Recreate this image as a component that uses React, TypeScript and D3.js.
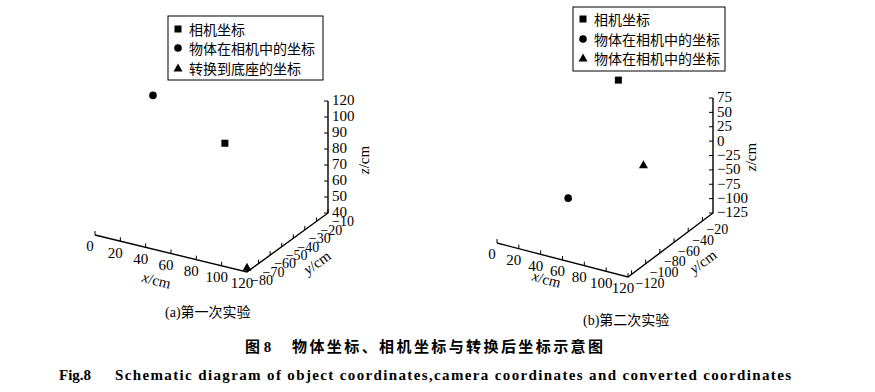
import React from "react";
import * as d3 from "d3";

// ---------- data ----------
const legendA = ["相机坐标", "物体在相机中的坐标", "转换到底座的坐标"];
const legendB = ["相机坐标", "物体在相机中的坐标", "物体在相机中的坐标"];
const markerKinds = ["square", "circle", "triangle"];

// panel (a) points [x, y, z]
const cameraA = [66, -40, 89];
const objectA = [27.5, -60, 122];
const convertedA = [120, -80, 43];
// panel (b) points
const cameraB = [69, -60, 132];
const objectB = [36, -80, -71];
const convertedB = [79, -40, -29];

const xTicksA = [0, 20, 40, 60, 80, 100, 120];
const yTicksA = [-80, -70, -60, -50, -40, -30, -20, -10];
const zTicksA = [40, 50, 60, 70, 80, 90, 100, 110];
const zTickLabelsA = ["40", "50", "60", "70", "80", "90", "100", "120"];

const xTicksB = [0, 20, 40, 60, 80, 100, 120];
const yTicksB = [-120, -100, -80, -60, -40, -20];
const zTicksB = [-125, -100, -75, -50, -25, 0, 25, 50, 75];
const zTickLabelsB = zTicksB.map((d) => (d < 0 ? "\u2212" + Math.abs(d) : String(d)));

const fmtNeg = (d: number) => (d < 0 ? "\u2212" + Math.abs(d) : String(d));

const SERIF = "'Liberation Serif', 'Times New Roman', serif";
const CJK = "'Liberation Serif', 'Noto Sans CJK SC', serif";

type Cfg = {
  origin: [number, number];
  xEnd: [number, number];
  yEnd: [number, number];
  zTopY: number;
  xDom: [number, number];
  yDom: [number, number];
  zDom: [number, number];
};

function makeProj(c: Cfg) {
  const fx = d3.scaleLinear().domain(c.xDom).range([0, 1]);
  const fy = d3.scaleLinear().domain(c.yDom).range([0, 1]);
  const fz = d3.scaleLinear().domain(c.zDom).range([0, 1]);
  const ex = [c.xEnd[0] - c.origin[0], c.xEnd[1] - c.origin[1]];
  const ey = [c.yEnd[0] - c.xEnd[0], c.yEnd[1] - c.xEnd[1]];
  const ez = [0, c.zTopY - c.yEnd[1]];
  return (x: number, y: number, z: number): [number, number] => {
    const a = fx(x), b = fy(y), g = fz(z);
    return [
      c.origin[0] + a * ex[0] + b * ey[0] + g * ez[0],
      c.origin[1] + a * ex[1] + b * ey[1] + g * ez[1],
    ];
  };
}

function Marker({ kind, x, y }: { kind: string; x: number; y: number }) {
  if (kind === "square") return <rect x={x - 3.5} y={y - 3.5} width={7} height={7} fill="#000" />;
  if (kind === "circle") return <circle cx={x} cy={y} r={3.8} fill="#000" />;
  return <path d={`M${x},${y - 4.5}L${x + 4.5},${y + 3.5}L${x - 4.5},${y + 3.5}Z`} fill="#000" />;
}

function Panel(props: {
  cfg: Cfg;
  xTicks: number[];
  yTicks: number[];
  zTicks: number[];
  zLabels: string[];
  points: number[][];
  xLab: [number, number];
  yLab: [number, number];
  zLab: [number, number];
}) {
  const { cfg, xTicks, yTicks, zTicks, zLabels, points } = props;
  const P = makeProj(cfg);
  const x0 = cfg.xDom[0], x1 = cfg.xDom[1];
  const y0 = cfg.yDom[0], y1 = cfg.yDom[1];
  const z0 = cfg.zDom[0], z1 = cfg.zDom[1];
  const line = d3.line();
  const axisPath = line([
    P(x0, y0, z0),
    P(x1, y0, z0),
    P(x1, y1, z0),
    P(x1, y1, z1),
  ] as [number, number][]) as string;
  const xAng = (Math.atan2(cfg.xEnd[1] - cfg.origin[1], cfg.xEnd[0] - cfg.origin[0]) * 180) / Math.PI;
  const yAng = (Math.atan2(cfg.yEnd[1] - cfg.xEnd[1], cfg.yEnd[0] - cfg.xEnd[0]) * 180) / Math.PI;
  return (
    <g>
      <path d={axisPath} fill="none" stroke="#000" strokeWidth={1.4} />
      {xTicks.map((t) => {
        const [px, py] = P(t, y0, z0);
        return (
          <g key={"x" + t}>
            <line x1={px} y1={py} x2={px} y2={py - 4} stroke="#000" strokeWidth={1} />
            <text x={px - 5} y={py + 13} textAnchor="middle" dominantBaseline="middle" fontSize={15} fontFamily={SERIF}>
              {t}
            </text>
          </g>
        );
      })}
      {yTicks.map((t) => {
        const [px, py] = P(x1, t, z0);
        return (
          <g key={"y" + t}>
            <line x1={px} y1={py} x2={px} y2={py - 4} stroke="#000" strokeWidth={1} />
            <text x={px + 4} y={py + 10} textAnchor="start" dominantBaseline="middle" fontSize={14} fontFamily={SERIF}>
              {fmtNeg(t)}
            </text>
          </g>
        );
      })}
      {zTicks.map((t, i) => {
        const [px, py] = P(x1, y1, t);
        return (
          <g key={"z" + t}>
            <line x1={px} y1={py} x2={px - 4} y2={py} stroke="#000" strokeWidth={1} />
            <text x={px + 4} y={py + 1} textAnchor="start" dominantBaseline="middle" fontSize={15} fontFamily={SERIF}>
              {zLabels[i]}
            </text>
          </g>
        );
      })}
      <text
        transform={`translate(${props.xLab[0]},${props.xLab[1]}) rotate(${xAng})`}
        textAnchor="middle"
        dominantBaseline="middle"
        fontSize={15}
        fontFamily={SERIF}
      >
        <tspan fontStyle="italic">x</tspan>/cm
      </text>
      <text
        transform={`translate(${props.yLab[0]},${props.yLab[1]}) rotate(${yAng})`}
        textAnchor="middle"
        dominantBaseline="middle"
        fontSize={15}
        fontFamily={SERIF}
      >
        <tspan fontStyle="italic">y</tspan>/cm
      </text>
      <text
        transform={`translate(${props.zLab[0]},${props.zLab[1]}) rotate(-90)`}
        textAnchor="middle"
        dominantBaseline="middle"
        fontSize={15}
        fontFamily={SERIF}
      >
        <tspan fontStyle="italic">z</tspan>/cm
      </text>
      {points.map((p, i) => {
        const [px, py] = P(p[0], p[1], p[2]);
        return <Marker key={i} kind={markerKinds[i]} x={px} y={py} />;
      })}
    </g>
  );
}

function Legend({ x, y, w, h, labels, rowY }: { x: number; y: number; w: number; h: number; labels: string[]; rowY: number[] }) {
  return (
    <g>
      <rect x={x} y={y} width={w} height={h} fill="#fff" stroke="#000" strokeWidth={1} />
      {labels.map((l, i) => (
        <g key={i}>
          <Marker kind={markerKinds[i]} x={x + 10} y={rowY[i]} />
          <text x={x + 21} y={rowY[i]} dominantBaseline="central" fontSize={14} fontFamily="'Noto Sans CJK SC', sans-serif">
            {l}
          </text>
        </g>
      ))}
    </g>
  );
}

export default function App() {
  const cfgA: Cfg = {
    origin: [95, 235],
    xEnd: [247, 272],
    yEnd: [328, 213],
    zTopY: 101,
    xDom: [0, 120],
    yDom: [-80, -10],
    zDom: [40, 110],
  };
  const cfgB: Cfg = {
    origin: [497, 243],
    xEnd: [628, 277],
    yEnd: [713, 213],
    zTopY: 98,
    xDom: [0, 120],
    yDom: [-125, -5],
    zDom: [-125, 75],
  };
  return (
    <svg width={875} height={392} style={{ position: "absolute", left: 0, top: 0, background: "#fff" }}>
      <rect width={875} height={392} fill="#fff" />
      <Panel
        cfg={cfgA}
        xTicks={xTicksA}
        yTicks={yTicksA}
        zTicks={zTicksA}
        zLabels={zTickLabelsA}
        points={[cameraA, objectA, convertedA]}
        xLab={[156, 282]}
        yLab={[318, 264]}
        zLab={[366, 160]}
      />
      <Panel
        cfg={cfgB}
        xTicks={xTicksB}
        yTicks={yTicksB}
        zTicks={zTicksB}
        zLabels={zTickLabelsB}
        points={[cameraB, objectB, convertedB]}
        xLab={[546, 281]}
        yLab={[704, 263]}
        zLab={[753, 157]}
      />
      <Legend x={168} y={16} w={155} h={64} labels={legendA} rowY={[29, 48, 68]} />
      <Legend x={573} y={7} w={152} h={64} labels={legendB} rowY={[19, 39, 58]} />
      <text x={165} y={317} fontSize={14} fontFamily={CJK}>(a)第一次实验</text>
      <text x={583} y={325} fontSize={14} fontFamily={CJK}>(b)第二次实验</text>
      <text x={245} y={352} fontSize={15} fontWeight="bold" fontFamily={CJK}>图 8</text>
      <text x={292} y={352} fontSize={15} fontWeight="bold" fontFamily={CJK} textLength={311} lengthAdjust="spacing">
        物体坐标、相机坐标与转换后坐标示意图
      </text>
      <text x={59} y={380} fontSize={15} fontWeight="bold" fontFamily={SERIF}>Fig.8</text>
      <text x={115} y={380} fontSize={15} fontWeight="bold" fontFamily={SERIF} textLength={676} lengthAdjust="spacing">
        Schematic diagram of object coordinates,camera coordinates and converted coordinates
      </text>
    </svg>
  );
}
